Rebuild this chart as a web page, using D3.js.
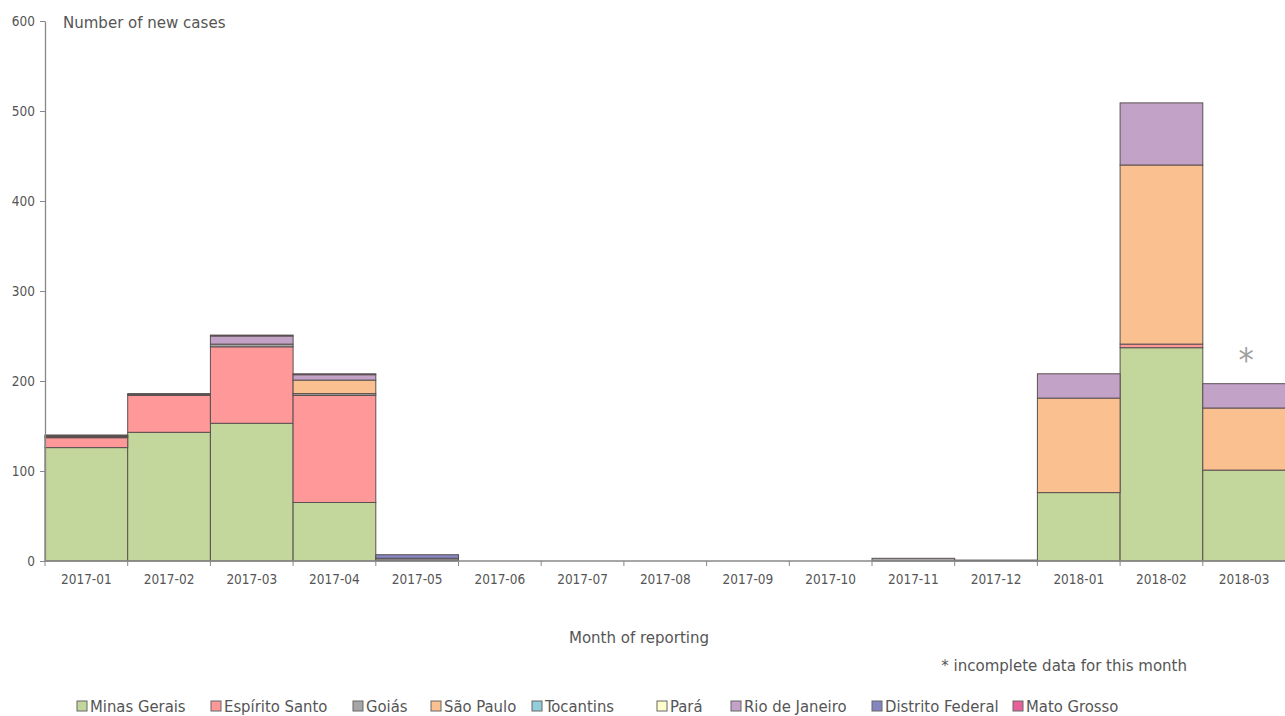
<!DOCTYPE html>
<html>
<head>
<meta charset="utf-8">
<script src="https://cdn.jsdelivr.net/npm/d3@7"></script>
<style>
  html, body { margin: 0; padding: 0; background: #fff; }
  svg { display: block; font-family: "DejaVu Sans Condensed", "DejaVu Sans", sans-serif; }
</style>
</head>
<body>
<svg id="chart" width="1285" height="716"></svg>
<script>
const months = ["2017-01","2017-02","2017-03","2017-04","2017-05","2017-06","2017-07","2017-08","2017-09","2017-10","2017-11","2017-12","2018-01","2018-02","2018-03"];
const seriesNames = ["Minas Gerais","Espírito Santo","Goiás","São Paulo","Tocantins","Pará","Rio de Janeiro","Distrito Federal","Mato Grosso"];
const seriesColors = ["#c3d69b","#ff9999","#a6a6a6","#fac090","#92cddc","#ffffcc","#c3a2c8","#8585c0","#e8609a"];
const minasGerais    = [126,143,153,65,1,0,0,0,0,0,0,0,76,237,101];
const espiritoSanto  = [11,41,85,119,0,0,0,0,0,0,0,0,0,4,0];
const goias          = [1,1,3,2,2,0,0,0,0,0,3,1,0,0,0];
const saoPaulo       = [0,0,0,15,0,0,0,0,0,0,0,0,105,199,69];
const tocantins      = [0,0,0,0,0,0,0,0,0,0,0,0,0,0,0];
const para           = [0,0,0,0,0,0,0,0,0,0,0,0,0,0,0];
const rioDeJaneiro   = [1,0,9,6,0,0,0,0,0,0,0,0,27,69,27];
const distritoFederal= [1,1,1,1,4,0,0,0,0,0,0,0,0,0,0];
const matoGrosso     = [0,0,0,0,0,0,0,0,0,0,0,0,0,0,0];
const yTicks = [0,100,200,300,400,500,600];
const incompleteMonth = "2018-03";

const allSeries = [minasGerais, espiritoSanto, goias, saoPaulo, tocantins, para, rioDeJaneiro, distritoFederal, matoGrosso];
const table = months.map((m, i) => {
  const row = { month: m };
  seriesNames.forEach((s, j) => row[s] = allSeries[j][i]);
  return row;
});

const svg = d3.select("#chart");
const x = d3.scaleBand().domain(months).range([45, 1285.5]).padding(0);
const y = d3.scaleLinear().domain([0, 600]).range([561, 21]);
const color = d3.scaleOrdinal().domain(seriesNames).range(seriesColors);

const stacked = d3.stack().keys(seriesNames)(table);

// bars
const g = svg.append("g");
stacked.forEach(layer => {
  g.append("g")
    .selectAll("rect")
    .data(layer.filter(d => d[1] - d[0] > 0))
    .join("rect")
    .attr("x", d => x(d.data.month))
    .attr("width", x.bandwidth())
    .attr("y", d => y(d[1]))
    .attr("height", d => y(d[0]) - y(d[1]))
    .attr("fill", color(layer.key))
    .attr("stroke", "#5a5050")
    .attr("stroke-width", 1);
});

// y axis
const yAxis = svg.append("g")
  .attr("transform", "translate(45,0)")
  .call(d3.axisLeft(y).tickValues(yTicks).tickSize(5).tickSizeOuter(0));
yAxis.select(".domain").attr("stroke", "#888").attr("stroke-width", 1.3);
yAxis.selectAll(".tick line").attr("stroke", "#888");
yAxis.selectAll(".tick text").attr("fill", "#555").attr("font-size", 13.5)
  .attr("font-family", "DejaVu Sans Condensed, sans-serif").attr("x", -10);

// x axis: baseline line with ticks at category boundaries
const xAxisG = svg.append("g").attr("transform", "translate(0,561)");
xAxisG.append("line")
  .attr("x1", x.range()[0]).attr("x2", x.range()[1])
  .attr("stroke", "#888").attr("stroke-width", 1.3);
const boundaries = months.map(m => x(m)).concat([x.range()[1]]);
xAxisG.selectAll("line.tk").data(boundaries).join("line")
  .attr("class", "tk")
  .attr("x1", d => d).attr("x2", d => d)
  .attr("y1", 0).attr("y2", 5)
  .attr("stroke", "#888");
xAxisG.selectAll("text").data(months).join("text")
  .attr("x", d => x(d) + x.bandwidth() / 2)
  .attr("y", 23)
  .attr("text-anchor", "middle")
  .attr("font-size", 13.5)
  .attr("fill", "#555")
  .text(d => d);

// titles
svg.append("text").attr("x", 63).attr("y", 28).attr("font-size", 16.7).attr("fill", "#555")
  .text("Number of new cases");
svg.append("text").attr("x", 639).attr("y", 643).attr("text-anchor", "middle")
  .attr("font-size", 16.7).attr("fill", "#555").text("Month of reporting");
svg.append("text").attr("x", 1187).attr("y", 671).attr("text-anchor", "end")
  .attr("font-size", 16.7).attr("fill", "#555").text("* incomplete data for this month");

// asterisk on incomplete month
svg.append("text")
  .attr("x", x(incompleteMonth) + x.bandwidth() / 2 + 2)
  .attr("y", 372)
  .attr("text-anchor", "middle")
  .attr("font-size", 34)
  .attr("fill", "#a0a0a0")
  .text("*");

// legend
const legendX = [77, 211, 353, 431, 532, 657, 731, 872, 1013];
const lg = svg.append("g");
seriesNames.forEach((s, i) => {
  lg.append("rect").attr("x", legendX[i]).attr("y", 701).attr("width", 10).attr("height", 10)
    .attr("fill", color(s)).attr("stroke", "#666").attr("stroke-width", 1);
  lg.append("text").attr("x", legendX[i] + 13).attr("y", 712).attr("font-size", 16.5)
    .attr("fill", "#555").text(s);
});
</script>
</body>
</html>
